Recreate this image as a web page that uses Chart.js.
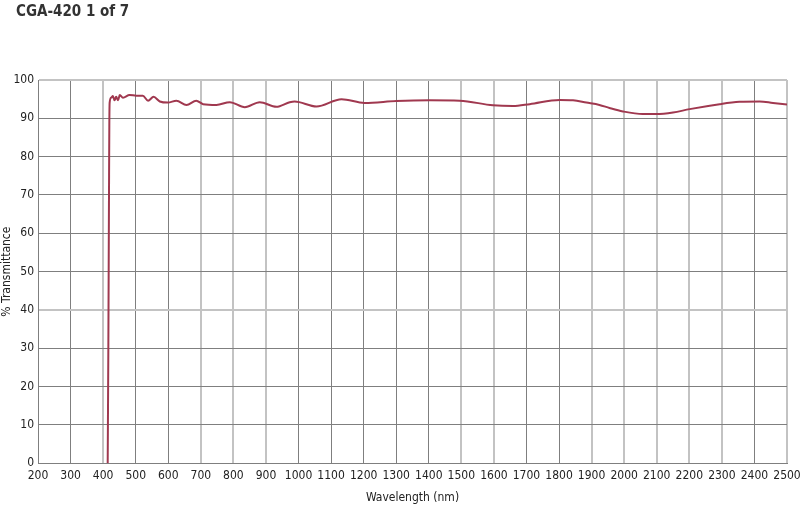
<!DOCTYPE html>
<html lang="en">
<head>
    <meta charset="UTF-8">
    <title>CGA-420 1 of 7</title>
    <script src="https://cdn.jsdelivr.net/npm/chart.js"></script>
    <style>
        body {
            margin: 0;
            padding: 0;
            background: #fff;
        }
        #wrap {
            width: 800px;
            height: 506px;
        }
    </style>
</head>
<body>
    <div id="wrap">
        <canvas id="transmittanceChart" width="800" height="506"></canvas>
    </div>

    <script>
        // Curve (nm, %T)
        const wavelength = [414, 416, 418, 419, 420, 425, 430, 435, 440, 446,
            451, 461, 481, 502, 522, 538, 555, 574, 599, 625,
            656, 686, 707, 748, 789, 835, 881, 932, 973, 988,
            1055, 1132, 1203, 1300, 1402, 1495, 1597, 1658, 1710, 1802,
            1843, 1884, 1924, 1955, 1996, 2057, 2098, 2150, 2201, 2293,
            2354, 2416, 2457, 2500];
        const transmittance = [0, 30, 70, 88, 94.1, 95.4, 95.8, 94.7, 95.6, 94.7,
            96.1, 95.4, 96.1, 95.9, 95.9, 94.6, 95.6, 94.4, 94.1, 94.6,
            93.5, 94.6, 93.7, 93.5, 94.2, 92.9, 94.2, 93.0, 94.2, 94.4,
            93.1, 95.0, 94.0, 94.5, 94.7, 94.6, 93.4, 93.2, 93.7, 94.8,
            94.7, 94.1, 93.5, 92.7, 91.8, 91.1, 91.1, 91.5, 92.4, 93.7,
            94.3, 94.4, 94.0, 93.6];
        const xRange = [200, 2500];
        const yRange = [0, 100];

        const chartTitle = 'CGA-420 1 of 7';
        const FONT = "'Liberation Sans Narrow', 'DejaVu Sans Condensed', sans-serif";

        // the scan has some grid lines lighter than others
        const lightX = [400, 700, 800, 900, 1500, 1600, 1900, 2000, 2100, 2200, 2300, 2500];
        const lightY = [40, 100];
        const DARK = '#7f7f7f';
        const LIGHT = '#c3c3c3';

        const titlePlugin = {
            id: 'cornerTitle',
            afterDraw(chart) {
                const c = chart.ctx;
                c.save();
                c.font = "bold 15px " + FONT;
                c.fillStyle = '#333';
                c.textBaseline = 'middle';
                c.fillText(chartTitle, 16, 12);
                c.restore();
            }
        };

        const points = wavelength.map((w, i) => ({ x: w, y: transmittance[i] }));

        new Chart(document.getElementById('transmittanceChart'), {
            type: 'line',
            data: {
                datasets: [{
                    label: 'CGA-420',
                    data: points,
                    borderColor: '#a0384f',
                    borderWidth: 2,
                    pointRadius: 0,
                    cubicInterpolationMode: 'monotone',
                    fill: false
                }]
            },
            options: {
                responsive: false,
                animation: false,
                layout: {
                    padding: { top: 80, right: 13, left: 0, bottom: 0 }
                },
                plugins: {
                    legend: { display: false },
                    tooltip: { enabled: false }
                },
                scales: {
                    x: {
                        type: 'linear',
                        min: xRange[0],
                        max: xRange[1],
                        afterFit: (scale) => { scale.paddingRight = 0; },
                        ticks: {
                            stepSize: 100,
                            autoSkip: false,
                            maxRotation: 0,
                            padding: 5,
                            color: '#222',
                            callback: (v) => String(v),
                            font: { family: FONT, size: 12 }
                        },
                        grid: {
                            drawTicks: false,
                            color: (ctx) => lightX.includes(ctx.tick.value) ? LIGHT : DARK,
                            lineWidth: (ctx) => lightX.includes(ctx.tick.value) ? 2 : 1
                        },
                        border: { color: DARK, width: 1 },
                        title: {
                            display: true,
                            text: 'Wavelength (nm)',
                            color: '#222',
                            padding: { top: 3, bottom: 1 },
                            font: { family: FONT, size: 12 }
                        }
                    },
                    y: {
                        min: yRange[0],
                        max: yRange[1],
                        afterFit: (scale) => { scale.width = 38; },
                        ticks: {
                            stepSize: 10,
                            padding: 4,
                            color: '#222',
                            font: { family: FONT, size: 12 }
                        },
                        grid: {
                            drawTicks: false,
                            color: (ctx) => lightY.includes(ctx.tick.value) ? LIGHT : DARK,
                            lineWidth: (ctx) => lightY.includes(ctx.tick.value) ? 2 : 1
                        },
                        border: { color: DARK, width: 1 },
                        title: {
                            display: true,
                            text: '% Transmittance',
                            color: '#222',
                            padding: { top: 0, bottom: 0 },
                            font: { family: FONT, size: 12 }
                        }
                    }
                }
            },
            plugins: [titlePlugin]
        });
    </script>
</body>
</html>
